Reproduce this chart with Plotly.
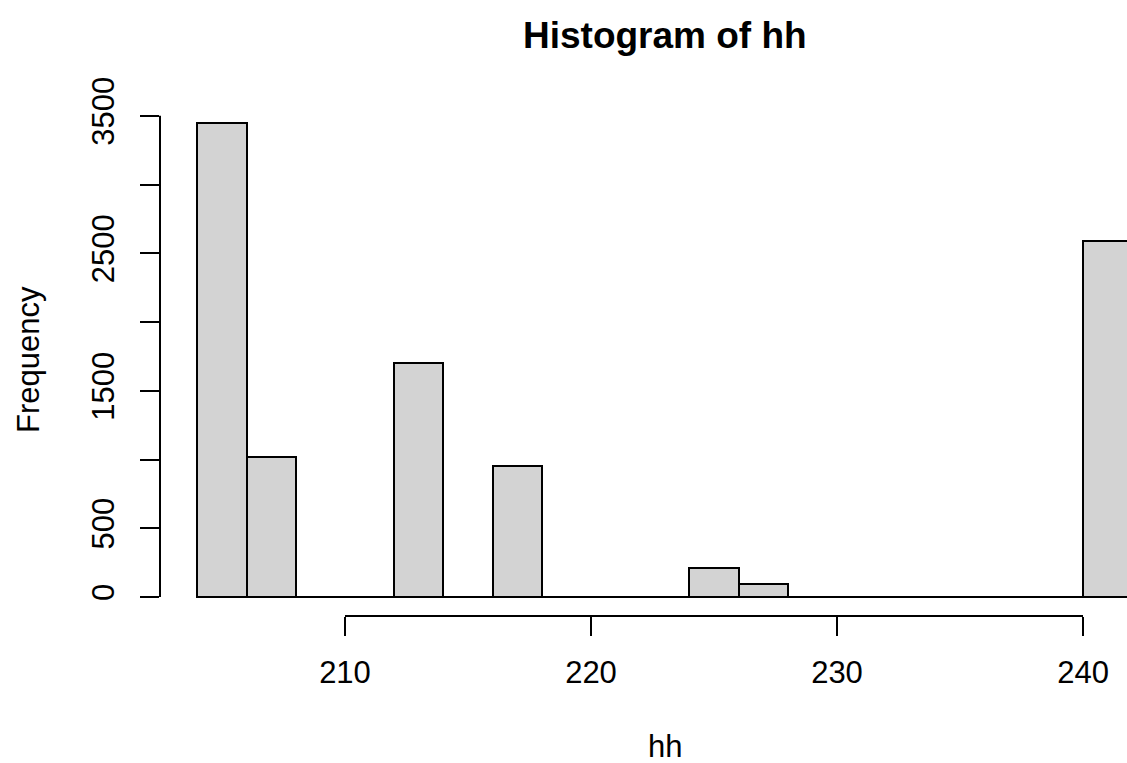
import plotly.graph_objects as go

# ---- data ----
bin_edges = [204, 206, 208, 210, 212, 214, 216, 218, 220, 222, 224, 226, 228,
             230, 232, 234, 236, 238, 240, 242]
counts = [3448, 1018, 0, 0, 1704, 0, 950, 0, 0, 0, 214, 98, 0, 0, 0, 0, 0, 0, 2591]
x_ticks = [210, 220, 230, 240]
y_ticks = [0, 500, 1000, 1500, 2000, 2500, 3000, 3500]
y_tick_labels = ["0", "500", "", "1500", "", "2500", "", "3500"]
title_text = "Histogram of hh"
x_label = "hh"
y_label = "Frequency"

centers = [(a + b) / 2 for a, b in zip(bin_edges[:-1], bin_edges[1:])]
widths = [b - a for a, b in zip(bin_edges[:-1], bin_edges[1:])]

W, H = 1127, 763
ML, MT = 160, 104
MB = 147
FONT = "Liberation Sans, Arial, Helvetica, sans-serif"
FS = 31

# R-style 4% axis extension
span = bin_edges[-1] - bin_edges[0]
xlo = bin_edges[0] - 0.04 * span
xhi_full = bin_edges[-1] + 0.04 * span
full_px = 1009.6  # width of R plot region in pixels (extends past the image)
xhi = xlo + (xhi_full - xlo) * (W - ML) / full_px
ymax = max(counts)
ylo, yhi = -0.04 * ymax, ymax * 1.04
xc = (xlo + xhi_full) / 2

fig = go.Figure()
fig.add_trace(go.Bar(
    x=centers, y=counts, width=widths,
    marker=dict(color="#D3D3D3", line=dict(color="black", width=2)),
    hoverinfo="skip",
))

line = dict(color="black", width=2)
shapes = [
    dict(type="line", xref="x", yref="y", x0=bin_edges[0], x1=bin_edges[-1],
         y0=0, y1=0, line=line),
    dict(type="line", xref="x", yref="paper", x0=x_ticks[0], x1=x_ticks[-1],
         y0=0, y1=0, line=line),
    dict(type="line", xref="paper", yref="y", x0=0, x1=0,
         y0=y_ticks[0], y1=y_ticks[-1], line=line),
]

annotations = [
    dict(text="<b>" + title_text + "</b>", xref="x", yref="paper", x=xc, y=1,
         yanchor="middle", xanchor="center", yshift=MT - 35, showarrow=False,
         font=dict(family=FONT, size=37, color="black")),
    dict(text=x_label, xref="x", yref="paper", x=xc, y=0,
         yanchor="middle", xanchor="center", yshift=-(746 - (H - MB)),
         showarrow=False, font=dict(family=FONT, size=FS, color="black")),
    dict(text=y_label, xref="paper", yref="paper", x=0, y=0.5,
         xanchor="center", yanchor="middle", xshift=-(ML - 28), textangle=-90,
         showarrow=False, font=dict(family=FONT, size=FS, color="black")),
]

fig.update_layout(
    width=W, height=H,
    margin=dict(l=ML, r=0, t=MT, b=MB, pad=0),
    paper_bgcolor="white", plot_bgcolor="white",
    showlegend=False, bargap=0,
    shapes=shapes, annotations=annotations,
    font=dict(family=FONT, size=FS, color="black"),
)
fig.update_xaxes(
    range=[xlo, xhi], tickvals=x_ticks, ticktext=[str(v) for v in x_ticks],
    ticks="outside", ticklen=19, tickwidth=2, tickcolor="black",
    showgrid=False, zeroline=False, showline=False,
    tickfont=dict(family=FONT, size=FS, color="black"),
    ticklabelstandoff=10,
)
fig.update_yaxes(
    range=[ylo, yhi], tickvals=y_ticks, ticktext=y_tick_labels,
    ticks="outside", ticklen=19, tickwidth=2, tickcolor="black",
    showgrid=False, zeroline=False, showline=False, tickangle=-90,
    tickfont=dict(family=FONT, size=FS, color="black"),
    ticklabelstandoff=14,
)

fig.write_html(
    "out.html",
    config={"displayModeBar": False},
    post_script="document.body.style.margin='0';document.body.style.padding='0';"
                "document.documentElement.style.overflow='hidden';",
)
